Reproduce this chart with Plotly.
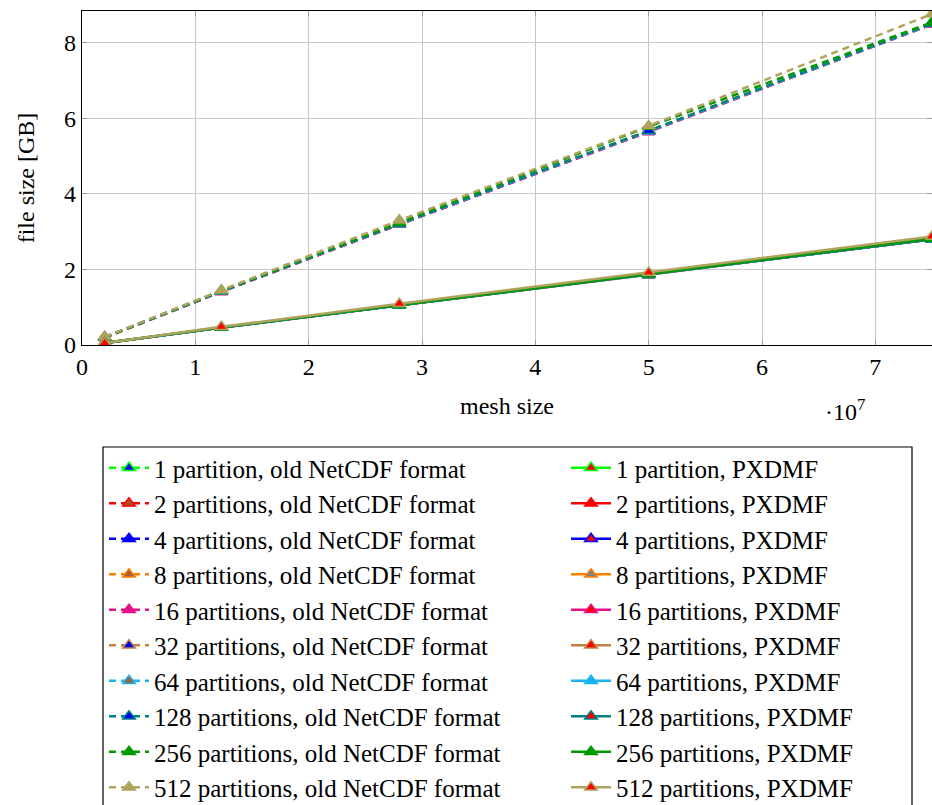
import plotly.graph_objects as go

mesh_size = [0.2e7, 1.23e7, 2.8e7, 5.0e7, 7.5e7]
partitions = [1, 2, 4, 8, 16, 32, 64, 128, 256, 512]

netcdf_sizes = [
    [0.20, 1.42, 3.20, 5.66, 8.50],
    [0.19, 1.41, 3.19, 5.65, 8.49],
    [0.20, 1.42, 3.20, 5.66, 8.50],
    [0.20, 1.42, 3.21, 5.67, 8.50],
    [0.21, 1.41, 3.19, 5.64, 8.49],
    [0.20, 1.42, 3.21, 5.67, 8.51],
    [0.20, 1.42, 3.20, 5.66, 8.50],
    [0.20, 1.42, 3.21, 5.67, 8.51],
    [0.20, 1.44, 3.24, 5.78, 8.54],
    [0.21, 1.45, 3.30, 5.80, 8.76],
]
pxdmf_sizes = [
    [0.05, 0.46, 1.05, 1.86, 2.80],
    [0.05, 0.46, 1.05, 1.86, 2.80],
    [0.05, 0.46, 1.05, 1.86, 2.80],
    [0.05, 0.46, 1.05, 1.86, 2.80],
    [0.05, 0.46, 1.05, 1.86, 2.80],
    [0.05, 0.46, 1.05, 1.86, 2.81],
    [0.05, 0.46, 1.05, 1.86, 2.80],
    [0.05, 0.46, 1.05, 1.86, 2.80],
    [0.05, 0.47, 1.06, 1.88, 2.82],
    [0.05, 0.48, 1.09, 1.92, 2.87],
]

line_colors = ["#00FF00", "#FF0000", "#0000FF", "#FF8000", "#E8108A",
               "#BF8040", "#19B4F0", "#008080", "#009900", "#AFA35E"]
netcdf_fill = ["#0000FF", "#A0522D", "#0000FF", "#A0603A", "#E8108A",
               "#0000FF", "#A0603A", "#0000FF", "#009900", "#AFA35E"]
pxdmf_fill = ["#FF0000", "#FF0000", "#FF0000", "#808080", "#FF0000",
              "#FF0000", "#19B4F0", "#FF0000", "#009900", "#FF0000"]

x_ticks = [0, 1e7, 2e7, 3e7, 4e7, 5e7, 6e7, 7e7]
x_tick_text = ["0", "1", "2", "3", "4", "5", "6", "7"]
y_ticks = [0, 2, 4, 6, 8]

FONT = "Liberation Serif"
FS = 24
LFS = 25

def label(p, kind):
    word = "partition" if p == 1 else "partitions"
    return f"{p} {word}, {kind}"

fig = go.Figure()
for i, p in enumerate(partitions):
    fig.add_trace(go.Scatter(
        x=mesh_size, y=netcdf_sizes[i], mode="lines+markers",
        name=label(p, "old NetCDF format"), legend="legend",
        line=dict(color=line_colors[i], width=2.5, dash="7px,5px"),
        marker=dict(symbol="triangle-up", size=11, color=netcdf_fill[i],
                    line=dict(color=line_colors[i], width=1.5)),
    ))
for i, p in enumerate(partitions):
    fig.add_trace(go.Scatter(
        x=mesh_size, y=pxdmf_sizes[i], mode="lines+markers",
        name=label(p, "PXDMF"), legend="legend2",
        line=dict(color=line_colors[i], width=2.5),
        marker=dict(symbol="triangle-up", size=11, color=pxdmf_fill[i],
                    line=dict(color=line_colors[i], width=1.5)),
    ))

axis_common = dict(
    showline=True, linecolor="black", linewidth=1.2, mirror="ticks",
    showgrid=True, gridcolor="#C8C8C8", gridwidth=1,
    ticks="inside", ticklen=5, tickcolor="#999999",
    zeroline=False, tickfont=dict(family=FONT, size=FS, color="black"),
)

fig.update_xaxes(range=[0, 7.5e7], tickvals=x_ticks, ticktext=x_tick_text,
                 title=dict(text="mesh size", font=dict(family=FONT, size=FS, color="black"), standoff=18),
                 **axis_common)
fig.update_yaxes(range=[0, 8.84], tickvals=y_ticks, ticktext=[str(v) for v in y_ticks],
                 title=dict(text="file size [GB]", font=dict(family=FONT, size=FS, color="black"), standoff=22),
                 **axis_common)

fig.add_annotation(x=(867 - 82) / 850, y=(345 - 393) / 334, xref="paper", yref="paper",
                   xanchor="right", yanchor="top",
                   text="·10<sup>7</sup>", showarrow=False,
                   font=dict(family=FONT, size=FS, color="black"))

# legend frame
fig.add_shape(type="rect", xref="paper", yref="paper",
              x0=(103 - 82) / 850, x1=(912 - 82) / 850,
              y0=(345 - 447) / 334, y1=(345 - 812) / 334,
              line=dict(color="black", width=1.2), fillcolor="rgba(0,0,0,0)")

leg_common = dict(
    orientation="v", yanchor="top", xanchor="left",
    bgcolor="rgba(0,0,0,0)", borderwidth=0,
    font=dict(family=FONT, size=LFS, color="black"),
    itemwidth=40, traceorder="normal",
)

fig.update_layout(
    width=932, height=805,
    margin=dict(l=82, r=0, t=11, b=460, autoexpand=False),
    plot_bgcolor="white", paper_bgcolor="white",
    font=dict(family=FONT, size=FS, color="black"),
    legend=dict(x=(104 - 82) / 850, y=(345 - 445) / 334, **leg_common),
    legend2=dict(x=(566 - 82) / 850, y=(345 - 445) / 334, **leg_common),
)

fig.write_html(
    "out.html",
    config={"displayModeBar": False},
    post_script="document.body.style.margin='0';document.body.style.overflow='hidden';",
)
